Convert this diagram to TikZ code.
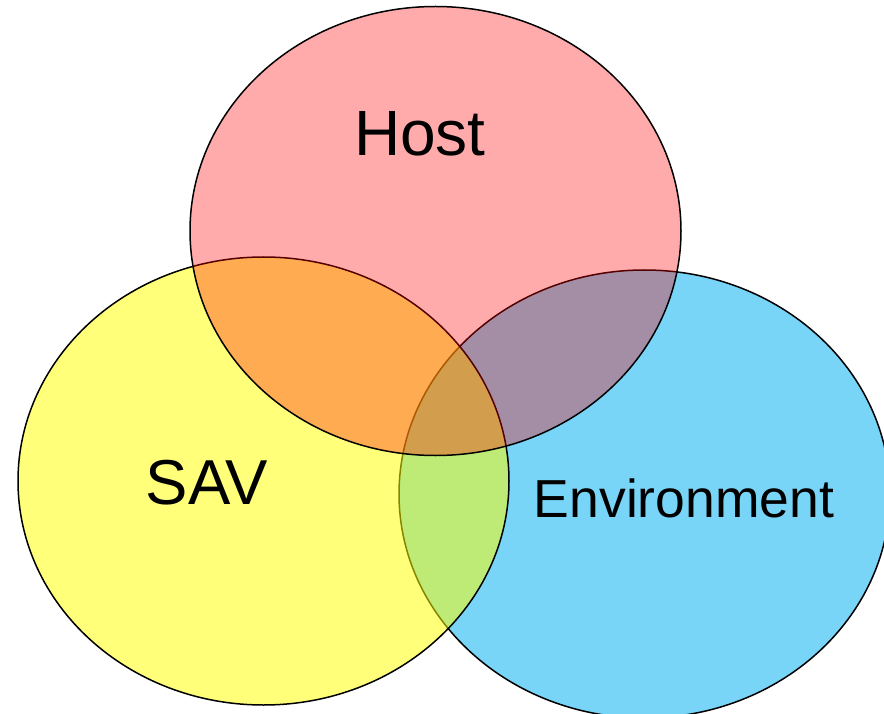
\documentclass[tikz,border=0pt]{standalone}
\usepackage{fontspec}
\setmainfont{Liberation Sans}
\definecolor{hostred}{HTML}{FF0000}
\definecolor{savyellow}{HTML}{FFFF00}
\definecolor{envblue}{HTML}{00B0F0}
\tikzset{
  setshape/.style={draw=black, line width=1.5pt},
  setlabel/.style={text=black, inner sep=0pt, anchor=base}
}
\begin{document}
\begin{tikzpicture}[x=1pt, y=-1pt]
  \useasboundingbox (0,0) rectangle (884,714);
  \clip (0,0) rectangle (884,714);
  % the three sets, drawn back to front
  \draw[setshape, fill=envblue, fill opacity=0.53] (644.5,494) ellipse [x radius=245.5, y radius=224];
  \draw[setshape, fill=savyellow, fill opacity=0.52] (263.5,481) ellipse [x radius=245.5, y radius=224];
  \draw[setshape, fill=hostred, fill opacity=0.33] (435.5,231) ellipse [x radius=245.5, y radius=224.5];
  % labels
  \node[setlabel, font=\fontsize{64}{64}\selectfont] (host) at (420,156) {Host};
  \node[setlabel, font=\fontsize{63.5}{63.5}\selectfont] (sav) at (207,504) {SAV};
  \node[setlabel, font=\fontsize{53.5}{53.5}\selectfont] (env) at (684,517) {Environment};
\end{tikzpicture}
\end{document}
